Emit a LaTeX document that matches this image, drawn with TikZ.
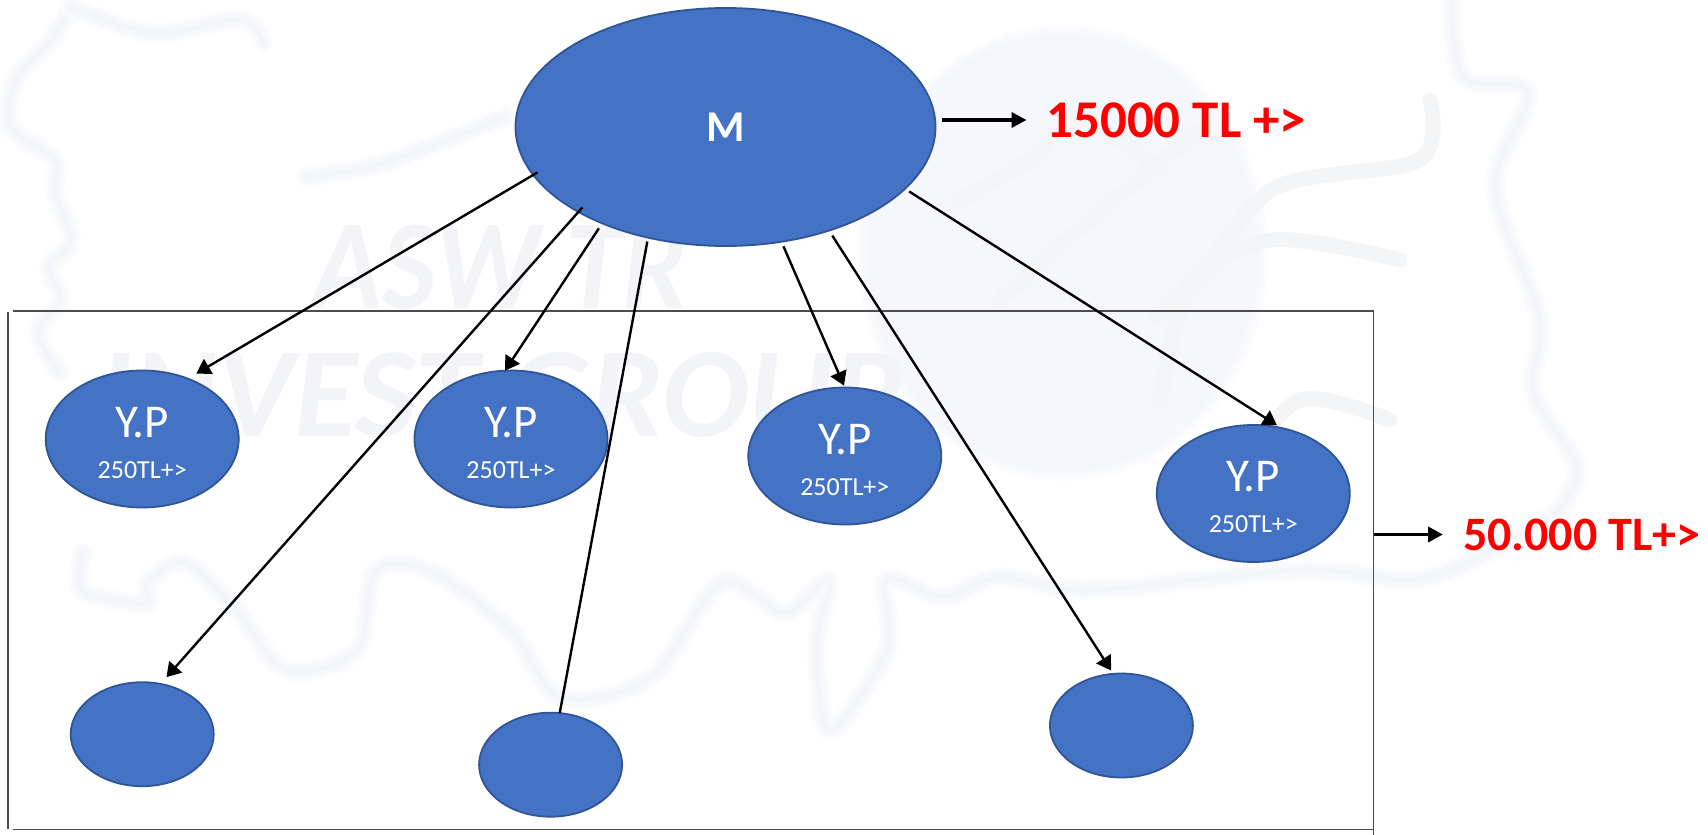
\documentclass[tikz,border=0pt]{standalone}
\usepackage{fontspec}
\setmainfont{Carlito}
\usetikzlibrary{shapes.geometric,arrows.meta}
\definecolor{nodeblue}{HTML}{4472C4}
\definecolor{nodeedge}{HTML}{2F5597}
\definecolor{wmA}{HTML}{FBFCFD}
\definecolor{wmB}{HTML}{F8F9FC}
\definecolor{wmC}{HTML}{F5F7FB}
\definecolor{wmD}{HTML}{F2F5FA}
\definecolor{wmGrey}{HTML}{F4F5F7}
\definecolor{wmText}{HTML}{F2F4F8}
\tikzset{
  bigell/.style={ellipse,draw=nodeedge,fill=nodeblue,line width=1.8bp,minimum width=420bp,minimum height=238bp,inner sep=0pt,outer sep=0pt,text=white,font=\fontsize{44bp}{48bp}\selectfont\bfseries},
  ypell/.style={ellipse,draw=nodeedge,fill=nodeblue,line width=1.8bp,minimum width=193bp,minimum height=137bp,inner sep=0pt,outer sep=0pt},
  yptext/.style={text=white,align=center,inner sep=0pt,font=\fontsize{47bp}{49bp}\selectfont},
  emptyell/.style={ellipse,draw=nodeedge,fill=nodeblue,line width=1.8bp,minimum width=143bp,minimum height=104bp,inner sep=0pt,outer sep=0pt},
  link/.style={draw=black,line width=2.4bp},
  tip/.style={-{Triangle[length=14bp,width=17bp]}},
  thickarrow/.style={draw=black,line width=3.6bp,-{Triangle[length=15bp,width=15bp]}},
  frameline/.style={draw=black!70,line width=1.4bp},
  pricelabel/.style={text=red,inner sep=0pt,outer sep=0pt,anchor=west},
  wmOuter/.style={draw=wmA,line width=20bp,line cap=round,line join=round},
  wmMid/.style={draw=wmB,line width=14bp,line cap=round,line join=round},
  wmInner/.style={draw=wmC,line width=8bp,line cap=round,line join=round},
  wmCore/.style={draw=wmD,line width=3bp,line cap=round,line join=round},
  wmSwirl/.style={draw=wmGrey,line width=15bp,line cap=round,line join=round},
  wmword/.style={text=wmText,inner sep=0pt,font=\fontsize{128bp}{130bp}\selectfont\bfseries\itshape}
}
\newcommand{\wmstroke}[1]{%
  \draw[wmOuter] plot[smooth,tension=0.55] coordinates {#1};
  \draw[wmMid] plot[smooth,tension=0.55] coordinates {#1};
  \draw[wmInner] plot[smooth,tension=0.55] coordinates {#1};
  \draw[wmCore] plot[smooth,tension=0.55] coordinates {#1};
}
\newcommand{\ypnote}{Y.P\\[-8bp]{\fontsize{26bp}{28bp}\selectfont 250TL+>}}
\begin{document}
\begin{tikzpicture}[x=1bp,y=-1bp]
\useasboundingbox (0,0) rectangle (1708,835);
\fill[white] (0,0) rectangle (1708,835);
% watermark
\fill[wmA] (1063,253) ellipse [x radius=205,y radius=228];
\fill[wmB] (1063,253) ellipse [x radius=201,y radius=224];
\fill[wmC] (1063,253) ellipse [x radius=196,y radius=219];
\node[wmword,xscale=0.9] (wm1) at (500,267) {ASW TR};
\node[wmword,xscale=1.01] (wm2) at (500,395) {INVEST GROUP};
\wmstroke{(71,7)(49,43)(16,80)(11,127)(55,160)(55,193)(71,240)(49,267)(60,300)(38,333)(60,373)}
\wmstroke{(71,7)(126,27)(165,33)(241,20)(263,43)}
\wmstroke{(307,177)(384,163)(505,117)}
\wmstroke{(83,553)(83,591)(147,603)(147,583)(185,563)(236,610)(287,670)(357,650)(376,570)(434,573)(510,630)(561,697)(651,677)(721,583)(785,613)(829,580)(817,643)(829,730)(887,650)(887,580)(944,597)(1000,577)(1090,590)(1300,570)(1430,577)(1557,512)}
\wmstroke{(1452,0)(1463,77)(1528,93)(1495,187)(1539,317)(1534,393)(1577,467)(1557,512)}
\draw[wmSwirl] plot[smooth,tension=0.55] coordinates {(1430,100)(1419,160)(1277,187)(1206,267)(1156,317)};
\draw[wmSwirl] plot[smooth,tension=0.55] coordinates {(1400,260)(1270,240)(1190,290)(1160,400)};
\draw[wmSwirl] plot[smooth,tension=0.55] coordinates {(1390,420)(1300,400)(1240,470)};
\draw[wmSwirl] plot[smooth,tension=0.55] coordinates {(960,200)(1030,160)(1080,120)(1160,170)};
\draw[wmSwirl] plot[smooth,tension=0.55] coordinates {(1000,300)(1090,220)(1200,130)};
% frame
\coordinate (tl) at (13,311);
\coordinate (tr) at (1373.7,311);
\coordinate (ltop) at (8,312);
\coordinate (lbot) at (8,829);
\coordinate (bl) at (13,829.5);
\coordinate (br) at (1373.7,829.5);
\coordinate (rbot) at (1373.7,835);
\coordinate (frameout) at (1373.7,534.5);
\draw[frameline] (tl) -- (tr);
\draw[frameline] (ltop) -- (lbot);
\draw[frameline] (bl) -- (br);
\draw[frameline] (tr) -- (rbot);
% nodes
\node[bigell] (m) at (725.5,127) {M};
\node[ypell] (yp1) at (142.2,439) {};
\node[ypell] (yp2) at (511,439) {};
\node[ypell] (yp3) at (844.8,456) {};
\node[ypell] (yp4) at (1253.3,493.5) {};
\node[yptext] (yp1t) at (142.2,443) {\ypnote};
\node[yptext] (yp2t) at (511,443) {\ypnote};
\node[yptext] (yp3t) at (844.8,460) {\ypnote};
\node[yptext] (yp4t) at (1253.3,497.5) {\ypnote};
\node[emptyell] (e1) at (142.2,734.2) {};
\node[emptyell] (e2) at (550.6,764.7) {};
\node[emptyell] (e3) at (1121.4,725.5) {};
\node[pricelabel,font=\fontsize{53bp}{55bp}\selectfont\bfseries] (l1) at (1046.5,120) {15000 TL +>};
\node[pricelabel,font=\fontsize{48bp}{50bp}\selectfont\bfseries] (l2) at (1463,534.5) {50.000 TL+>};
% connectors
\draw[link,tip,shorten >=10bp,shorten <=-5bp] (m.194.3) -- (yp1.53.6);
\draw[link,tip,shorten >=9bp,shorten <=-6bp] (m.210.3) -- (e1.70.1);
\draw[link,tip,shorten <=6bp] (m.218.1) -- (yp2.95.4);
\draw[link,shorten <=4bp] (m.235.3) -- (e2.80);
\draw[link,tip,shorten <=5bp,shorten >=2bp] (m.296.2) -- (yp3.90);
\draw[link,tip,shorten <=6bp,shorten >=4bp] (m.315.7) -- (e3.99.3);
\draw[link,tip,shorten <=5bp,shorten >=5bp] (m.341.4) -- (yp4.67.8);
\draw[thickarrow,shorten <=6.5bp,shorten >=20bp] (m.east |- l1.west) -- (l1.west);
\draw[thickarrow,shorten >=20bp] (frameout) -- (l2.west);
\end{tikzpicture}
\end{document}
